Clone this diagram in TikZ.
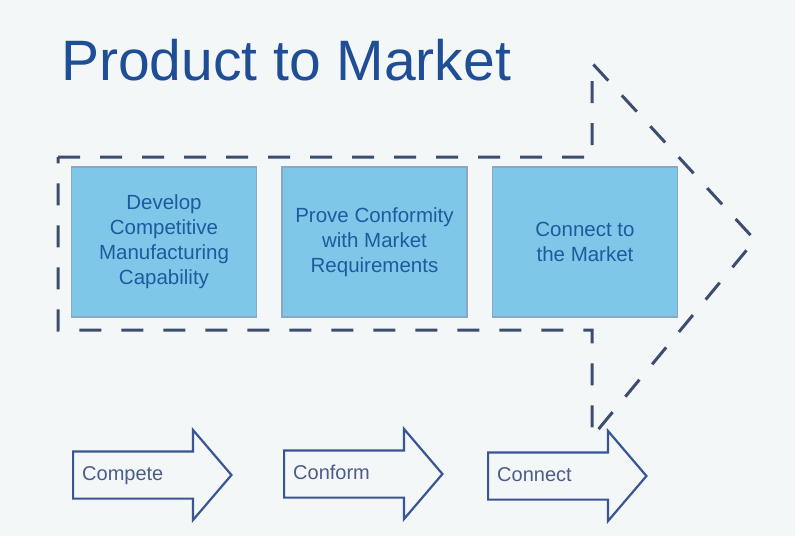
\documentclass[tikz,border=0pt]{standalone}
\usepackage{fontspec}
\setmainfont{Liberation Sans}
\usetikzlibrary{positioning,shapes.arrows}
\definecolor{paper}{HTML}{F4F7F7}
\definecolor{titleblue}{HTML}{1F4E96}
\definecolor{boxfill}{HTML}{7EC7E9}
\definecolor{boxline}{HTML}{8DA6C4}
\definecolor{boxtext}{HTML}{1D5B9E}
\definecolor{dashline}{HTML}{3C4D70}
\definecolor{stageline}{HTML}{3A5596}
\definecolor{stagetext}{HTML}{4B5C88}

\begin{document}
\begin{tikzpicture}[x=1pt, y=-1pt,
  phase/.style={draw=boxline, line width=1.5pt, fill=boxfill, minimum width=185pt, minimum height=150pt,
    align=center, text=boxtext, font=\fontsize{20.5}{25}\selectfont},
  stage/.style={single arrow, single arrow head extend=21.5pt, single arrow tip angle=99, draw=stageline,
    line width=2.2pt, text=stagetext, font=\fontsize{20}{24}\selectfont, text width=120pt, align=left,
    inner xsep=8pt, inner ysep=13pt, text height=15pt, text depth=4pt},
  outline/.style={draw=dashline, line width=3pt, dash pattern=on 22pt off 20pt}]
  \fill[paper] (0,0) rectangle (795,536);
  \node[anchor=base west, inner sep=0pt, text=titleblue, font=\fontsize{57}{60}\selectfont] (title) at (61,80) {Product to Market};
  % big dashed arrow round the three phases
  \draw[outline] (58,157) -- (592,157) -- (592,63) -- (755,240) -- (592,437) -- (592,330) -- (58,330) -- cycle;
  \node[phase] (develop) at (164,242) {Develop\\Competitive\\Manufacturing\\Capability};
  \node[phase, right=24pt of develop] (prove) {Prove Conformity\\with Market\\Requirements};
  \node[phase, right=24pt of prove] (connect) {Connect to\\the Market};
  % the three steps below
  \node[stage, anchor=tail] (compete) at (72,475) {Compete};
  \node[stage, anchor=tail] (conform) at (283,474) {Conform};
  \node[stage, anchor=tail] (connectstep) at (487,476) {Connect};
\end{tikzpicture}
\end{document}
